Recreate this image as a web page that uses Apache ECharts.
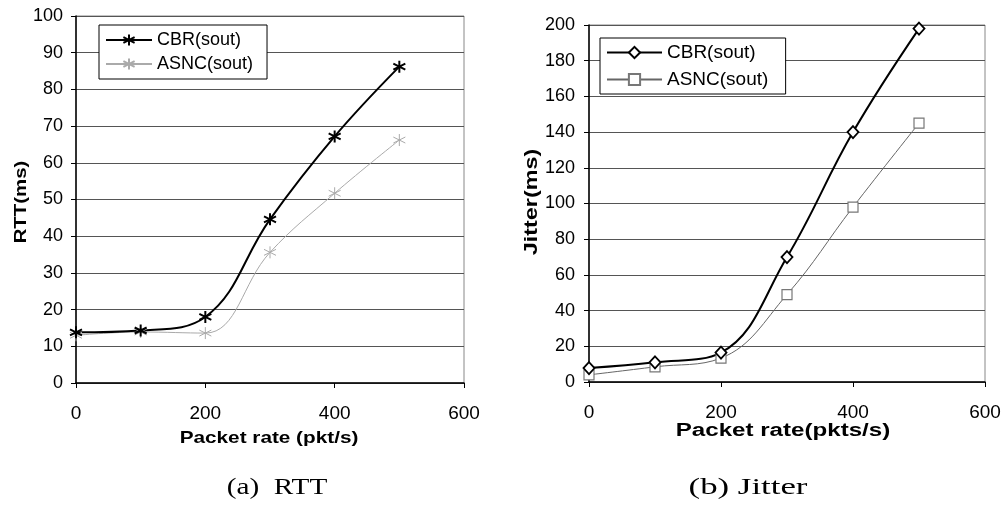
<!DOCTYPE html>
<html><head><meta charset="utf-8">
<script src="https://cdn.jsdelivr.net/npm/echarts@6/dist/echarts.min.js"></script>
<style>html,body{margin:0;padding:0;background:#fff}#c{width:1005px;height:508px}</style>
</head><body><div id="c"></div>
<script>
const packetRates = [0, 100, 200, 300, 400, 500];
const rttCBR  = [13.8, 14.3, 18, 44.6, 67.2, 86.2];
const rttASNC = [13, 13.9, 13.6, 35.6, 51.7, 66.2];
const jitCBR  = [7.8, 11, 16.5, 70, 140, 198];
const jitASNC = [4, 8.5, 13.4, 49, 98, 145];
const rttTicks = {min: 0, max: 100, interval: 10};
const jitTicks = {min: 0, max: 200, interval: 20};
const xTicks = {min: 0, max: 600, interval: 200};

const pts = (ys) => packetRates.map((x, i) => [x, ys[i]]);
const star = 'path://M0,-1L0,1M-0.866,-0.5L0.866,0.5M-0.866,0.5L0.866,-0.5';
const font = 'Liberation Sans';
const axisCommon = (idx) => ({
  gridIndex: idx, type: 'value',
  axisLine: {show: true, lineStyle: {color: '#000', width: 1.5}},
  axisTick: {show: true, inside: false, length: 5, lineStyle: {color: '#000'}},
});
const chart = echarts.init(document.getElementById('c'));
chart.setOption({
  animation: false,
  backgroundColor: '#fff',
  grid: [
    {left: 76, right: 541, top: 16, bottom: 125, show: true, borderColor: '#888', borderWidth: 1},
    {left: 589, right: 20, top: 25, bottom: 126, show: true, borderColor: '#888', borderWidth: 1}
  ],
  xAxis: [0, 1].map(i => Object.assign(axisCommon(i), xTicks, {
    splitLine: {show: false},
    axisLabel: {color: '#000', fontFamily: font, fontSize: 19, margin: 21}
  })),
  yAxis: [
    Object.assign(axisCommon(0), rttTicks, {splitLine: {show: true, lineStyle: {color: '#555', width: 1}},
      axisLabel: {color: '#000', fontFamily: font, fontSize: 18, margin: 13}}),
    Object.assign(axisCommon(1), jitTicks, {splitLine: {show: true, lineStyle: {color: '#555', width: 1}},
      axisLabel: {color: '#000', fontFamily: font, fontSize: 18, margin: 14}})
  ],
  legend: [
    {data: ['CBR(sout)', 'ASNC(sout)'], orient: 'vertical', left: 99, top: 25,
     padding: [6, 14, 6, 6], itemGap: 6, itemWidth: 46, itemHeight: 14,
     backgroundColor: '#fff', borderColor: '#000', borderWidth: 1, borderRadius: 0,
     textStyle: {fontFamily: font, fontSize: 18, color: '#000'}, selectedMode: false},
    {data: ['CBR(sout) ', 'ASNC(sout) '], orient: 'vertical', left: 600, top: 38,
     padding: [5, 12, 5, 6], itemGap: 8, itemWidth: 55, itemHeight: 14,
     backgroundColor: '#fff', borderColor: '#000', borderWidth: 1, borderRadius: 0,
     textStyle: {fontFamily: font, fontSize: 19, color: '#000'}, selectedMode: false}
  ],
  series: [
    {name: 'ASNC(sout)', type: 'line', xAxisIndex: 0, yAxisIndex: 0, data: pts(rttASNC), smooth: 0.4,
     symbol: star, symbolSize: 12, lineStyle: {color: '#aaa', width: 1},
     itemStyle: {color: '#aaa', borderColor: '#aaa', borderWidth: 1}},
    {name: 'CBR(sout)', type: 'line', xAxisIndex: 0, yAxisIndex: 0, data: pts(rttCBR), smooth: 0.4,
     symbol: star, symbolSize: 12, lineStyle: {color: '#000', width: 2},
     itemStyle: {color: '#000', borderColor: '#000', borderWidth: 2}},
    {name: 'ASNC(sout) ', type: 'line', xAxisIndex: 1, yAxisIndex: 1, data: pts(jitASNC), smooth: 0.4,
     symbol: 'rect', symbolSize: 10, lineStyle: {color: '#666', width: 1},
     itemStyle: {color: '#fff', borderColor: '#777', borderWidth: 1.2}},
    {name: 'CBR(sout) ', type: 'line', xAxisIndex: 1, yAxisIndex: 1, data: pts(jitCBR), smooth: 0.4,
     symbol: 'diamond', symbolSize: [11, 12], lineStyle: {color: '#000', width: 2},
     itemStyle: {color: '#fff', borderColor: '#000', borderWidth: 1.8}}
  ],
  graphic: [
    {type: 'text', x: 269, y: 438, scaleX: 1.22, style: {text: 'Packet rate (pkt/s)', font: 'bold 17px "Liberation Sans"', fill: '#000', align: 'center', verticalAlign: 'middle'}},
    {type: 'text', x: 783, y: 431, scaleX: 1.34, style: {text: 'Packet rate(pkts/s)', font: 'bold 18px "Liberation Sans"', fill: '#000', align: 'center', verticalAlign: 'middle'}},
    {type: 'text', x: 21, y: 202, rotation: Math.PI / 2, scaleX: 1.2, style: {text: 'RTT(ms)', font: 'bold 17px "Liberation Sans"', fill: '#000', align: 'center', verticalAlign: 'middle'}},
    {type: 'text', x: 532, y: 202, rotation: Math.PI / 2, scaleX: 1.3, style: {text: 'Jitter(ms)', font: 'bold 18px "Liberation Sans"', fill: '#000', align: 'center', verticalAlign: 'middle'}},
    {type: 'text', x: 277, y: 488, scaleX: 1.22, style: {text: '(a)  RTT', font: '24px "Liberation Serif"', fill: '#000', align: 'center', verticalAlign: 'middle'}},
    {type: 'text', x: 748, y: 488, scaleX: 1.45, style: {text: '(b) Jitter', font: '24px "Liberation Serif"', fill: '#000', align: 'center', verticalAlign: 'middle'}}
  ]
});
</script></body></html>
